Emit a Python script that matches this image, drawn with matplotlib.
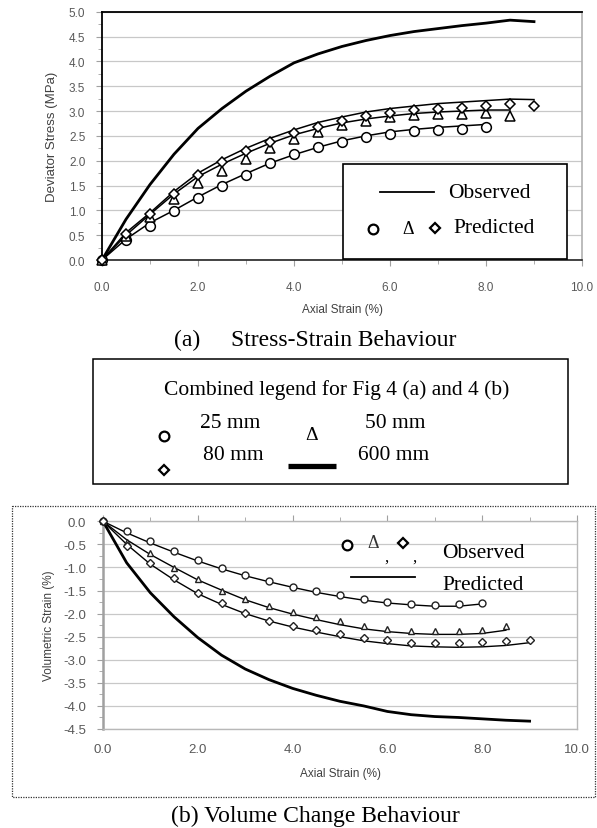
import matplotlib
matplotlib.use("Agg")
import matplotlib.pyplot as plt
from matplotlib.patches import Rectangle
from matplotlib.lines import Line2D
from matplotlib.ticker import MultipleLocator

W, H = 597, 829
SANS = ["Liberation Sans", "DejaVu Sans"]
SERIF = ["Liberation Serif", "DejaVu Serif"]

# ---------------- data: (a) stress-strain ----------------
strain_a_25 = [0, 0.5, 1, 1.5, 2, 2.5, 3, 3.5, 4, 4.5, 5, 5.5, 6, 6.5, 7, 7.5, 8]
strain_a_50 = strain_a_25 + [8.5]
strain_a_80 = strain_a_50 + [9]
strain_a_600 = strain_a_80

obs_a_600 = [0, 0.82, 1.52, 2.13, 2.65, 3.05, 3.4, 3.7, 3.97, 4.15, 4.3, 4.42, 4.52, 4.6, 4.66, 4.72, 4.77, 4.83, 4.80]
obs_a_25 = [0, 0.42, 0.75, 1.0, 1.27, 1.52, 1.74, 1.95, 2.12, 2.27, 2.4, 2.5, 2.58, 2.63, 2.67, 2.7, 2.73]
obs_a_50 = [0, 0.5, 0.92, 1.33, 1.68, 1.93, 2.15, 2.35, 2.52, 2.65, 2.76, 2.84, 2.9, 2.95, 2.98, 3.0, 3.02, 3.02]
obs_a_80 = [0, 0.55, 0.95, 1.38, 1.75, 2.02, 2.25, 2.45, 2.62, 2.77, 2.88, 2.98, 3.05, 3.1, 3.15, 3.18, 3.21, 3.24, 3.23]

pred_a_25 = [0, 0.41, 0.68, 0.98, 1.24, 1.5, 1.72, 1.95, 2.13, 2.27, 2.37, 2.47, 2.54, 2.6, 2.62, 2.64, 2.67]
pred_a_50 = [0, 0.48, 0.86, 1.23, 1.55, 1.8, 2.03, 2.25, 2.43, 2.58, 2.72, 2.8, 2.87, 2.92, 2.95, 2.95, 2.96, 2.9]
pred_a_80 = [0, 0.52, 0.93, 1.33, 1.71, 1.97, 2.2, 2.38, 2.55, 2.68, 2.8, 2.9, 2.97, 3.02, 3.05, 3.07, 3.1, 3.14, 3.1]

# ---------------- data: (b) volume change ----------------
strain_b_25 = strain_a_25
strain_b_50 = strain_a_50
strain_b_80 = strain_a_80
strain_b_600 = strain_a_80

obs_b_25 = [0, -0.22, -0.43, -0.64, -0.83, -1.02, -1.16, -1.29, -1.42, -1.5, -1.6, -1.68, -1.74, -1.79, -1.81, -1.8, -1.78]
obs_b_50 = [0, -0.45, -0.69, -1.02, -1.25, -1.5, -1.68, -1.83, -1.96, -2.08, -2.17, -2.26, -2.33, -2.37, -2.38, -2.37, -2.35, -2.27]
obs_b_80 = [0, -0.53, -0.91, -1.23, -1.55, -1.78, -1.99, -2.15, -2.26, -2.35, -2.44, -2.53, -2.58, -2.63, -2.64, -2.64, -2.62, -2.6, -2.57]

pred_b_25 = [0, -0.25, -0.47, -0.67, -0.86, -1.03, -1.18, -1.31, -1.43, -1.54, -1.63, -1.71, -1.77, -1.81, -1.84, -1.84, -1.79]
pred_b_50 = [0, -0.4, -0.72, -1.0, -1.27, -1.49, -1.7, -1.87, -2.01, -2.13, -2.24, -2.33, -2.39, -2.43, -2.45, -2.45, -2.43, -2.36]
pred_b_80 = [0, -0.5, -0.93, -1.27, -1.57, -1.8, -2.0, -2.16, -2.29, -2.4, -2.5, -2.59, -2.65, -2.7, -2.72, -2.73, -2.72, -2.69, -2.63]
pred_b_600 = [0, -0.9, -1.55, -2.07, -2.52, -2.9, -3.2, -3.43, -3.62, -3.77, -3.9, -4.0, -4.12, -4.19, -4.23, -4.25, -4.28, -4.31, -4.33]

x_ticks = [0, 2, 4, 6, 8, 10]
y_ticks_a = [0, 0.5, 1, 1.5, 2, 2.5, 3, 3.5, 4, 4.5, 5]
y_ticks_b = [0, -0.5, -1, -1.5, -2, -2.5, -3, -3.5, -4, -4.5]

TICK_COL = "#595959"
GRID_COL = "#c8c8c8"
LEG_FS = 15.5
CAP_FS = 17


def fr(x0, y0, x1, y1):
    return [x0 / W, 1 - y1 / H, (x1 - x0) / W, (y1 - y0) / H]


fig = plt.figure(figsize=(W / 100, H / 100), dpi=100)

# ---------------- (a) ----------------
ax = fig.add_axes(fr(102, 12.7, 582, 261))
ax.set_xlim(0, 10)
ax.set_ylim(0, 5)
ax.set_xticks(x_ticks)
ax.set_xticklabels([f"{v:.1f}" for v in x_ticks])
ax.xaxis.set_minor_locator(MultipleLocator(1))
ax.set_yticks(y_ticks_a)
ax.set_yticklabels([f"{v:.1f}" for v in y_ticks_a])
ax.yaxis.set_minor_locator(MultipleLocator(0.25))
ax.grid(axis="y", color=GRID_COL, lw=0.9)
ax.set_axisbelow(True)
for s in ["top", "left"]:
    ax.spines[s].set_color("black")
    ax.spines[s].set_linewidth(1.3)
ax.spines["bottom"].set_color("#222222")
ax.spines["bottom"].set_linewidth(1.2)
ax.spines["right"].set_color("#b0b0b0")
ax.spines["right"].set_linewidth(1.2)
ax.tick_params(which="both", color="#a0a0a0", direction="out")
ax.tick_params(which="major", length=4, labelsize=8.5, labelcolor=TICK_COL)
ax.tick_params(axis="x", which="major", pad=11)
ax.tick_params(axis="y", which="major", pad=8)
ax.tick_params(which="minor", length=3)
for t in ax.get_xticklabels() + ax.get_yticklabels():
    t.set_family(SANS)
ax.set_ylabel("Deviator Stress (MPa)", fontsize=9.5, color="#404040", family=SANS, labelpad=8)
ax.set_xlabel("Axial Strain (%)", fontsize=8.5, color="#404040", family=SANS, labelpad=7)

ax.plot(strain_a_600, obs_a_600, color="black", lw=2.0, zorder=3)
ax.plot(strain_a_25, obs_a_25, color="black", lw=1.1, zorder=3)
ax.plot(strain_a_50, obs_a_50, color="black", lw=1.1, zorder=3)
ax.plot(strain_a_80, obs_a_80, color="black", lw=1.1, zorder=3)
mk = dict(ls="none", mfc="white", mec="black", mew=1.1, zorder=4, clip_on=False)
ax.plot(strain_a_25, pred_a_25, marker="o", ms=7, **mk)
ax.plot(strain_a_50, pred_a_50, marker="^", ms=7, **mk)
ax.plot(strain_a_80, pred_a_80, marker="D", ms=5.5, **mk)

# ---------------- (b) ----------------
bx = fig.add_axes(fr(103, 522.3, 577, 730))
bx.set_xlim(0, 10)
bx.set_ylim(-4.5, 0)
bx.set_xticks(x_ticks)
bx.set_xticklabels([f"{v:.1f}" for v in x_ticks])
bx.xaxis.set_minor_locator(MultipleLocator(1))
bx.set_yticks(y_ticks_b)
bx.set_yticklabels([f"{v:.1f}" for v in y_ticks_b])
bx.yaxis.set_minor_locator(MultipleLocator(0.25))
bx.grid(axis="y", color=GRID_COL, lw=0.9)
bx.set_axisbelow(True)
for s in ["top", "right", "bottom"]:
    bx.spines[s].set_color("#b8b8b8")
    bx.spines[s].set_linewidth(1.0)
bx.spines["left"].set_color("#a0a0a0")
bx.spines["left"].set_linewidth(1.8)
bx.tick_params(axis="x", which="both", top=True, bottom=False, labeltop=False,
               labelbottom=True, color="#a0a0a0", direction="out")
bx.tick_params(axis="y", which="both", color="#a0a0a0", direction="out")
bx.tick_params(which="major", length=4, labelsize=9.5, labelcolor=TICK_COL)
bx.tick_params(axis="x", which="major", pad=6)
bx.tick_params(axis="y", which="major", pad=8)
bx.tick_params(which="minor", length=3)
for t in bx.get_xticklabels() + bx.get_yticklabels():
    t.set_family(SANS)
bx.set_ylabel("Volumetric Strain (%)", fontsize=8.5, color="#404040", family=SANS, labelpad=6)
bx.set_xlabel("Axial Strain (%)", fontsize=8.5, color="#404040", family=SANS, labelpad=9)

bx.plot(strain_b_600, pred_b_600, color="black", lw=2.0, zorder=3)
bx.plot(strain_b_25, pred_b_25, color="black", lw=1.0, zorder=3)
bx.plot(strain_b_50, pred_b_50, color="black", lw=1.0, zorder=3)
bx.plot(strain_b_80, pred_b_80, color="black", lw=1.0, zorder=3)
mk2 = dict(ls="none", mfc="white", mec="#222222", mew=1.0, zorder=4, clip_on=False)
bx.plot(strain_b_25, obs_b_25, marker="o", ms=5, **mk2)
bx.plot(strain_b_50, obs_b_50, marker="^", ms=5, **mk2)
bx.plot(strain_b_80, obs_b_80, marker="D", ms=4, **mk2)

# ---------------- overlay (captions, legends, frames) in pixel coords ----------------
ov = fig.add_axes([0, 0, 1, 1], zorder=10)
ov.set_xlim(0, W)
ov.set_ylim(H, 0)
ov.axis("off")
ov.patch.set_alpha(0)

# legend box inside (a)
ov.add_patch(Rectangle((343, 165), 224, 95, fc="white", ec="black", lw=1.2))
ov.add_line(Line2D([380, 434], [193, 193], color="black", lw=1.3))
ov.text(448, 193, "Observed", family=SERIF, fontsize=LEG_FS, va="center", ha="left")
ov.plot([373], [230], marker="o", ms=7, mfc="white", mec="black", mew=1.6)
ov.text(408, 229, "\u0394", family=SERIF, fontsize=13, va="center", ha="center")
ov.plot([435], [229], marker="D", ms=5.5, mfc="white", mec="black", mew=1.6)
ov.text(453, 228, "Predicted", family=SERIF, fontsize=LEG_FS, va="center", ha="left")

# caption (a)
ov.text(174, 340, "(a)", family=SERIF, fontsize=CAP_FS, va="center", ha="left")
ov.text(456, 340, "Stress-Strain Behaviour", family=SERIF, fontsize=CAP_FS, va="center", ha="right")

# combined legend box
ov.add_patch(Rectangle((93, 360), 475, 125, fc="white", ec="black", lw=1.1))
ov.text(337, 390, "Combined legend for Fig 4 (a) and 4 (b)", family=SERIF, fontsize=LEG_FS,
        va="center", ha="center")
ov.text(230, 423, "25 mm", family=SERIF, fontsize=LEG_FS, va="center", ha="center")
ov.text(233, 455, "80 mm", family=SERIF, fontsize=LEG_FS, va="center", ha="center")
ov.text(395, 423, "50 mm", family=SERIF, fontsize=LEG_FS, va="center", ha="center")
ov.text(394, 455, "600 mm", family=SERIF, fontsize=LEG_FS, va="center", ha="center")
ov.plot([164], [437], marker="o", ms=7, mfc="white", mec="black", mew=1.6)
ov.plot([164], [471], marker="D", ms=5.5, mfc="white", mec="black", mew=1.6)
ov.text(312, 435, "\u0394", family=SERIF, fontsize=14, va="center", ha="center")
ov.add_line(Line2D([288, 336], [467, 467], color="black", lw=3.8, solid_capstyle="butt"))

# dotted frame around (b)
ov.add_patch(Rectangle((12, 507), 583, 291, fc="none", ec="#333333", lw=0.9, ls=(0, (1, 1))))

# legend inside (b)
ov.plot([347], [545.5], marker="o", ms=7, mfc="white", mec="black", mew=1.6)
ov.text(373, 543, "\u0394", family=SERIF, fontsize=13, va="center", ha="center", color="#333333")
ov.text(386, 558, ",", family=SERIF, fontsize=12, va="center", ha="center")
ov.plot([403], [544], marker="D", ms=5.5, mfc="white", mec="black", mew=1.6)
ov.text(414, 558, ",", family=SERIF, fontsize=12, va="center", ha="center")
ov.text(442, 554, "Observed", family=SERIF, fontsize=LEG_FS, va="center", ha="left")
ov.add_line(Line2D([351, 415], [577.5, 577.5], color="black", lw=1.3))
ov.text(442, 586, "Predicted", family=SERIF, fontsize=LEG_FS, va="center", ha="left")

# caption (b)
ov.text(315, 816, "(b) Volume Change Behaviour", family=SERIF, fontsize=CAP_FS, va="center", ha="center")

fig.savefig("out.png", dpi=100, facecolor="white")
